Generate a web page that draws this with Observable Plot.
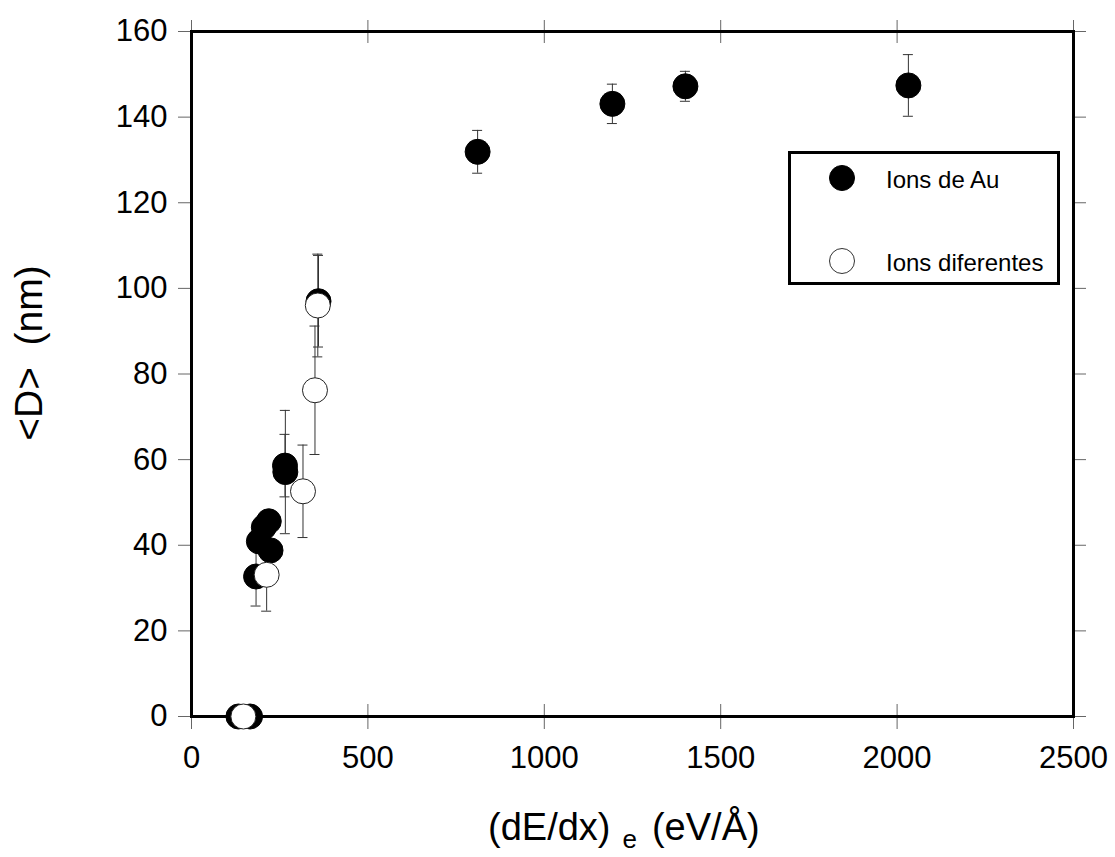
<!DOCTYPE html>
<html><head><meta charset="utf-8">
<script src="https://cdn.jsdelivr.net/npm/d3@7"></script>
<script src="https://cdn.jsdelivr.net/npm/@observablehq/plot@0.6"></script>
<style>
body{margin:0;background:#fff;}
#wrap{position:relative;width:1115px;height:857px;font-family:"Liberation Sans",Arial,sans-serif;}
#legend{position:absolute;left:788px;top:151px;}
</style>
</head><body>
<div id="wrap"></div>
<script>
// Ions de Au (filled)
const auX   = [133, 166, 183, 191, 205, 219, 224, 265, 266, 360, 811, 1193, 1400, 2032];
const auY   = [0, 0, 32.7, 40.9, 44.2, 45.6, 38.8, 58.6, 57.1, 97.0, 131.9, 143.1, 147.2, 147.4];
const auErr = [0, 0, 6.9, 0, 0, 0, 0, 7.3, 14.4, 10.7, 5.0, 4.6, 3.5, 7.2];
// Ions diferentes (open)
const difX   = [147, 213, 316, 350, 358];
const difY   = [0, 33.1, 52.6, 76.2, 96.0];
const difErr = [0, 8.5, 10.8, 15.0, 12.0];
// ticks
const xTicks = [0, 500, 1000, 1500, 2000, 2500];
const yTicks = [0, 20, 40, 60, 80, 100, 120, 140, 160];
const legendLabels = ["Ions de Au", "Ions diferentes"];

const au = auX.map((x, i) => ({x, y: auY[i], e: auErr[i]}));
const dif = difX.map((x, i) => ({x, y: difY[i], e: difErr[i]}));
const errs = [...au, ...dif].filter(d => d.e > 0);

const plotH = 857 - 31 - 141;
const tickC = "#666";
const FONT = '"Liberation Sans", Arial, sans-serif';

const svg = Plot.plot({
  width: 1115, height: 857,
  marginLeft: 191, marginRight: 42, marginTop: 31, marginBottom: 141,
  x: {domain: [0, 2500]},
  y: {domain: [0, 160]},
  style: {fontFamily: FONT, fontSize: "31px", color: "black", background: "white"},
  marks: [
    Plot.ruleX(xTicks, {insetTop: plotH - 12, stroke: tickC}),
    Plot.ruleX(xTicks, {insetBottom: plotH - 12, stroke: tickC}),
    Plot.axisX({anchor: "bottom", ticks: xTicks, tickSize: 13, tickPadding: 16, label: null, stroke: tickC, fill: "black", tickFormat: d => String(d)}),
    Plot.axisX({anchor: "top", ticks: xTicks, tickSize: 12, label: null, stroke: tickC, tickFormat: () => ""}),
    Plot.axisY({anchor: "left", ticks: yTicks, tickSize: 13, tickPadding: 11, label: null, stroke: tickC, fill: "black", tickFormat: d => String(d)}),
    Plot.axisY({anchor: "right", ticks: yTicks, tickSize: 12, label: null, stroke: tickC, tickFormat: () => ""}),
    Plot.frame({stroke: "black", strokeWidth: 3}),
    Plot.ruleX(errs, {x: "x", y1: d => d.y - d.e, y2: d => d.y + d.e, stroke: "#333", strokeWidth: 1}),
    Plot.ruleY(errs, {y: d => d.y - d.e, x1: "x", x2: "x", insetLeft: -5, insetRight: -5, stroke: "#333", strokeWidth: 1}),
    Plot.ruleY(errs, {y: d => d.y + d.e, x1: "x", x2: "x", insetLeft: -5, insetRight: -5, stroke: "#333", strokeWidth: 1}),
    Plot.dot(au, {x: "x", y: "y", r: 12.5, fill: "black", stroke: "black", strokeWidth: 1}),
    Plot.dot(dif, {x: "x", y: "y", r: 12.5, fill: "white", stroke: "#222", strokeWidth: 1})
  ]
});

const s = d3.select(svg);
// x axis title with subscript
const xt = s.append("text")
  .attr("x", 488).attr("y", 840)
  .attr("text-anchor", "start")
  .attr("font-size", 38).attr("fill", "black")
  .attr("font-family", FONT);
xt.append("tspan").text("(dE/dx)");
xt.append("tspan").attr("dx", 12).attr("dy", 8).attr("font-size", 26).text("e");
xt.append("tspan").attr("dx", 15).attr("dy", -8).text("(eV/Å)");
// y axis title
s.append("text")
  .attr("transform", "translate(42,353) rotate(-90)")
  .attr("text-anchor", "middle")
  .attr("font-size", 39).attr("fill", "black")
  .attr("font-family", FONT)
  .style("white-space", "pre")
  .text("<D>  (nm)");

const wrap = document.getElementById("wrap");
wrap.appendChild(svg);

// legend
const lg = d3.select(wrap).append("svg").attr("id", "legend").attr("width", 272).attr("height", 134);
lg.append("rect").attr("x", 1.5).attr("y", 1.5).attr("width", 269).attr("height", 131)
  .attr("fill", "white").attr("stroke", "black").attr("stroke-width", 3);
const fills = ["black", "white"];
legendLabels.forEach((t, i) => {
  const cy = i === 0 ? 27 : 110;
  lg.append("circle").attr("cx", 54).attr("cy", cy).attr("r", 12.5)
    .attr("fill", fills[i]).attr("stroke", i === 0 ? "black" : "#333").attr("stroke-width", 1);
  lg.append("text").attr("x", 98).attr("y", cy + 10).attr("font-size", 24)
    .attr("font-family", FONT).attr("fill", "black").text(t);
});
</script>
</body></html>
